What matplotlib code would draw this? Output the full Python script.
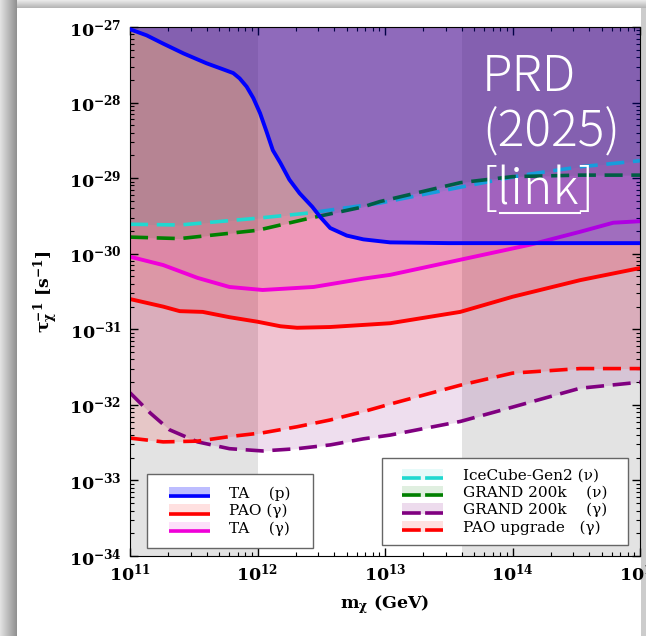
import numpy as np
import matplotlib
matplotlib.use('Agg')
import matplotlib.pyplot as plt
from matplotlib.patches import Rectangle
from matplotlib.lines import Line2D
from matplotlib.legend_handler import HandlerBase
from matplotlib.ticker import LogLocator, FuncFormatter, NullFormatter

plt.rcParams['font.family'] = 'DejaVu Serif'
plt.rcParams['mathtext.fontset'] = 'dejavuserif'

# curves: log10(m_chi / GeV), log10(tau^-1 / s^-1)
ta_p_logm = [11.0, 11.13, 11.26, 11.42, 11.60, 11.73, 11.81, 11.86, 11.915, 11.967, 12.02, 12.07,
             12.12, 12.18, 12.25, 12.33, 12.43, 12.49, 12.57, 12.70, 12.83, 13.04, 13.5, 14.0, 15.0]
ta_p_logt = [-27.03, -27.11, -27.22, -27.35, -27.48, -27.56, -27.61, -27.68, -27.79, -27.94, -28.14,
             -28.38, -28.63, -28.80, -29.02, -29.20, -29.38, -29.51, -29.66, -29.76, -29.81, -29.85,
             -29.86, -29.86, -29.86]

pao_logm = [11.0, 11.26, 11.39, 11.57, 11.78, 12.0, 12.18, 12.31, 12.57, 13.04, 13.59, 14.0, 14.53, 15.0]
pao_logt = [-30.60, -30.70, -30.76, -30.77, -30.84, -30.90, -30.96, -30.98, -30.97, -30.92, -30.77,
            -30.57, -30.35, -30.19]

ta_g_logm = [11.0, 11.26, 11.53, 11.78, 12.04, 12.44, 12.83, 13.04, 13.59, 14.14, 14.53, 14.79, 15.0]
ta_g_logt = [-30.04, -30.15, -30.32, -30.44, -30.48, -30.44, -30.33, -30.28, -30.08, -29.88, -29.71,
             -29.59, -29.57]

icecube_logm = [11.0, 11.39, 12.0, 12.41, 12.96, 13.59, 14.08, 14.53, 15.0]
icecube_logt = [-29.61, -29.62, -29.53, -29.46, -29.33, -29.12, -28.96, -28.85, -28.77]

grand_nu_logm = [11.0, 11.39, 12.0, 12.41, 12.83, 12.96, 13.59, 14.0, 14.53, 15.0]
grand_nu_logt = [-29.78, -29.80, -29.69, -29.53, -29.38, -29.31, -29.06, -28.98, -28.96, -28.96]

grand_g_logm = [11.0, 11.16, 11.31, 11.53, 11.78, 12.04, 12.31, 12.57, 12.83, 13.04, 13.59, 14.0, 14.53, 15.0]
grand_g_logt = [-31.84, -32.11, -32.33, -32.49, -32.58, -32.61, -32.58, -32.53, -32.45, -32.40, -32.22,
                -32.03, -31.78, -31.70]

paou_logm = [11.0, 11.26, 11.53, 11.78, 12.04, 12.31, 12.57, 12.83, 13.04, 13.59, 14.0, 14.53, 15.0]
paou_logt = [-32.44, -32.49, -32.48, -32.42, -32.37, -32.29, -32.20, -32.09, -31.99, -31.74, -31.58,
             -31.52, -31.52]

labels_left = ['TA    (p)', 'PAO (γ)', 'TA    (γ)']
labels_right = ['IceCube-Gen2 (ν)', 'GRAND 200k    (ν)', 'GRAND 200k    (γ)', 'PAO upgrade   (γ)']


class BandLine:
    def __init__(self, color, alpha, dashed):
        self.color = color
        self.alpha = alpha
        self.dashed = dashed


class BandLineHandler(HandlerBase):
    def create_artists(self, legend, h, xd, yd, w, ht, fs, trans):
        x0, y0 = -xd + 0.19 * w, -yd
        w = 0.81 * w
        patch = Rectangle((x0, y0), w, ht, facecolor=h.color, alpha=h.alpha,
                          edgecolor='none', transform=trans)
        line = Line2D([x0, x0 + w], [y0 + 0.15 * ht] * 2, color=h.color, lw=2.6,
                      transform=trans, solid_capstyle='butt', dash_capstyle='butt')
        if h.dashed:
            line.set_dashes((5.2, 1.2))
        return [patch, line]


fig = plt.figure(figsize=(6.46, 6.36), dpi=100)
fig.patch.set_facecolor('white')
W, H = 646.0, 636.0

# page shadow of the screenshot
for i in range(17):
    g = (225 - 80 * i / 16) / 255
    fig.add_artist(Rectangle((i / W, 0), 1 / W, 1, transform=fig.transFigure,
                             facecolor=(g, g, g), edgecolor='none', zorder=-5))
for i in range(8):
    g = (232 - 50 * i / 7) / 255
    fig.add_artist(Rectangle((17 / W, 1 - (i + 1) / H), 1, 1 / H, transform=fig.transFigure,
                             facecolor=(g, g, g), edgecolor='none', zorder=-5))
fig.add_artist(Rectangle((641 / W, 0), 5 / W, 1 - 8 / H, transform=fig.transFigure,
                         facecolor=(0.80, 0.80, 0.80), edgecolor='none', zorder=-5))

ax = fig.add_axes([130 / W, 80 / H, 510 / W, 529 / H])
ax.set_facecolor('#e3e3e3')
ax.axvspan(1e12, 4e13, color='white', zorder=0, lw=0)

top = 1e-26
curves = [
    (pao_logm, pao_logt, 'red', 0.12, '-'),
    (ta_g_logm, ta_g_logt, '#f000d8', 0.11, '-'),
    (icecube_logm, icecube_logt, '#20d8d0', 0.12, '--'),
    (grand_nu_logm, grand_nu_logt, 'green', 0.12, '--'),
    (grand_g_logm, grand_g_logt, 'purple', 0.13, '--'),
    (paou_logm, paou_logt, 'red', 0.12, '--'),
]
for lm, lt, c, a, ls in curves:
    m = 10 ** np.array(lm)
    t = 10 ** np.array(lt)
    ax.fill_between(m, t, top, color=c, alpha=a, lw=0, zorder=1)
    ln, = ax.plot(m, t, color=c, lw=2.6 if ls == '--' else 2.8, zorder=2)
    if ls == '--':
        ln.set_dashes((5, 2.4))

m = 10 ** np.array(ta_p_logm)
t = 10 ** np.array(ta_p_logt)
ax.fill_between(m, t, top, color='blue', alpha=0.27, lw=0, zorder=2.5)
ax.plot(m, t, color='blue', lw=2.8, zorder=3)

ax.set_xscale('log')
ax.set_yscale('log')
ax.set_xlim(1e11, 1e15)
ax.set_ylim(1e-34, 1e-27)

fmt = FuncFormatter(lambda v, p: r'$\mathbf{10^{%d}}$' % round(np.log10(v)))
for axis in (ax.xaxis, ax.yaxis):
    axis.set_major_locator(LogLocator(base=10, numticks=20))
    axis.set_minor_locator(LogLocator(base=10, subs=np.arange(2, 10), numticks=20))
    axis.set_major_formatter(fmt)
    axis.set_minor_formatter(NullFormatter())
ax.tick_params(which='both', direction='in', top=True, right=True, labelsize=12.5)
ax.tick_params(which='major', length=6, width=1)
ax.tick_params(which='minor', length=3.2, width=0.8)
ax.tick_params(axis='x', pad=5)
ax.tick_params(axis='y', pad=6)

ax.set_xlabel(r'$\mathbf{m_\chi}$ (GeV)', fontsize=12.5, fontweight='bold')
ax.set_ylabel(r'$\mathbf{\tau_\chi^{-1}}$ [s$\mathbf{^{-1}}$]', fontsize=12.5, fontweight='bold')
ax.xaxis.set_label_coords(0.5, -0.07)
ax.yaxis.set_label_coords(-0.135, 0.5)

hl = [BandLine('blue', 0.26, False), BandLine('red', 0.12, False), BandLine('#f000d8', 0.12, False)]
hr = [BandLine('#20d8d0', 0.11, True), BandLine('green', 0.12, True),
      BandLine('purple', 0.14, True), BandLine('red', 0.12, True)]
hmap = {BandLine: BandLineHandler()}

leg_kw = dict(handler_map=hmap, loc='lower left', borderaxespad=0, fontsize=11, mode='expand',
              handlelength=3.3, handleheight=0.75, handletextpad=1.3, labelspacing=0.2,
              fancybox=False, framealpha=1, edgecolor='#666666')
leg1 = ax.legend(hl, labels_left, bbox_to_anchor=(0.0333, 0.0151, 0.3255, 0.1),
                 borderpad=0.8, **leg_kw)
leg1.get_frame().set_linewidth(1.0)
leg1.set_zorder(5)
ax.add_artist(leg1)
leg2 = ax.legend(hr, labels_right, bbox_to_anchor=(0.494, 0.0208, 0.482, 0.1),
                 borderpad=0.68, **leg_kw)
leg2.get_frame().set_linewidth(1.0)
leg2.set_zorder(5)

# journal note in the corner
for txt, yb in [('PRD', 91), ('(2025)', 146), ('[link]', 204)]:
    fig.text(482 / W, 1 - yb / H, txt, color='white', fontsize=36,
             family=['Noto Sans CJK JP', 'DejaVu Sans'], fontweight='light',
             va='baseline', ha='left', zorder=10)
fig.add_artist(Line2D([500 / W, 580 / W], [1 - 213 / H] * 2, color='white', lw=1.5,
                      transform=fig.transFigure, zorder=10))

fig.savefig('out.png', dpi=100)
